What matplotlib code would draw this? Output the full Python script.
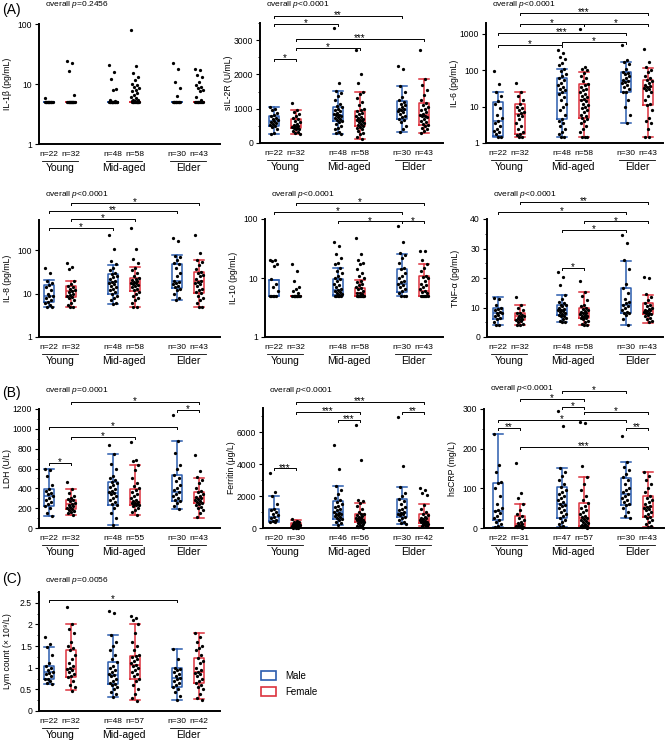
import matplotlib
matplotlib.use("Agg")
import matplotlib.pyplot as plt
from matplotlib.patches import Patch
from matplotlib.ticker import FixedLocator, FixedFormatter, NullLocator, MultipleLocator
from matplotlib.transforms import blended_transform_factory, ScaledTranslation

W, H = 667, 742
BLUE = "#2b5cae"
RED = "#dc323d"

plt.rcParams["font.family"] = ["Liberation Sans", "DejaVu Sans"]
plt.rcParams["mathtext.fontset"] = "custom"
plt.rcParams["mathtext.it"] = "Liberation Sans:italic"
plt.rcParams["mathtext.rm"] = "Liberation Sans"

GROUPS = ["Young", "Mid-aged", "Elder"]

# ---- data: box stats [whislo, q1, med, q3, whishi] per group (M/F per age) ----
IL1B_N = [22, 32, 48, 58, 30, 43]
IL1B_BOX = [[5, 5, 5, 5, 5]] * 6
IL1B_PTS = [
    [5.8, 5, 5, 5, 5, 5, 5, 5, 5, 5, 5, 5, 5, 5],
    [24, 22.5, 16.5, 6.5, 5, 5, 5, 5, 5, 5, 5, 5, 5, 5, 5, 5, 5, 5],
    [21, 16, 12, 8.3, 8, 5.5, 5.3, 5, 5, 5, 5, 5, 5, 5, 5, 5, 5, 5, 5, 5, 5, 5],
    [80, 20, 15, 13, 11.5, 10, 9.5, 9, 8.5, 8, 7.5, 7.2, 6.5, 6, 5.8, 5.5, 5.5, 5.3, 5.2,
     5, 5, 5, 5, 5, 5, 5, 5, 5, 5, 5],
    [22, 18, 11, 8.5, 6.2, 5, 5, 5, 5, 5, 5, 5, 5, 5, 5, 5],
    [18, 17, 14, 13, 11, 9.5, 9, 8.5, 8, 7.5, 6, 5.5, 5, 5, 5, 5, 5, 5, 5, 5, 5, 5],
]

SIL2R_N = [22, 32, 48, 58, 30, 43]
SIL2R_BOX = [[270, 500, 640, 800, 1040], [260, 430, 490, 700, 970],
             [250, 640, 830, 1060, 1520], [120, 510, 680, 930, 1490],
             [330, 690, 960, 1220, 1650], [300, 530, 810, 1170, 1880]]
SIL2R_PTS = [
    [1040, 1000, 950, 880, 820, 790, 740, 700, 660, 640, 620, 580, 550, 520, 500, 470, 420, 300, 270],
    [1180, 970, 900, 850, 780, 720, 690, 650, 600, 560, 520, 500, 490, 470, 450, 430, 420, 400, 360,
     320, 290, 260],
    [3350, 1760, 1520, 1450, 1380, 1250, 1150, 1080, 1050, 1000, 960, 920, 880, 850, 830, 810, 790,
     760, 720, 690, 660, 640, 620, 560, 500, 450, 400, 330, 280, 250],
    [2700, 2000, 1760, 1490, 1420, 1300, 1200, 1100, 1000, 950, 920, 880, 840, 800, 760, 720, 700,
     680, 660, 640, 610, 580, 550, 520, 500, 470, 440, 400, 350, 300, 250, 180, 120],
    [2250, 2150, 1650, 1500, 1350, 1250, 1200, 1150, 1100, 1050, 1000, 980, 960, 940, 900, 850, 800,
     750, 700, 680, 600, 500, 400, 330],
    [2720, 1880, 1700, 1550, 1400, 1250, 1170, 1100, 1050, 1000, 950, 900, 850, 820, 800, 780, 750,
     700, 650, 600, 560, 530, 500, 450, 400, 350, 300],
]

IL6_N = [22, 32, 48, 58, 30, 43]
IL6_BOX = [[1.5, 1.53, 4.1, 13.8, 25], [1.5, 1.74, 6.1, 11.6, 25], [1.5, 4.6, 24.5, 60, 109],
           [1.5, 5, 15.3, 41.7, 88], [3.6, 26, 51, 88, 167], [1.5, 10.9, 34, 55, 113]]
IL6_PTS = [
    [95, 42, 25, 20, 14, 12, 9, 6, 5, 4, 3.5, 3, 2.5, 2.2, 2, 1.8, 1.5, 1.5],
    [45, 25, 20, 15, 11.5, 10, 9, 8, 7, 6.5, 6, 5.5, 4.5, 3.5, 3, 2.5, 2, 1.8, 1.7, 1.5, 1.5],
    [370, 300, 230, 200, 160, 140, 110, 95, 80, 70, 60, 55, 45, 40, 35, 30, 28, 25, 22, 18, 15, 12,
     10, 8, 6, 4.6, 4, 3.5, 3, 2.5, 2, 1.8, 1.5, 1.5],
    [1400, 120, 110, 100, 85, 70, 60, 50, 42, 40, 35, 30, 28, 25, 22, 20, 18, 16, 15, 14, 12, 11, 10,
     9, 8, 7, 6, 5.5, 5, 4.5, 4, 3.5, 3, 2.5, 2, 1.5, 1.5, 1.5],
    [500, 190, 170, 150, 110, 90, 85, 80, 70, 60, 55, 50, 48, 45, 40, 35, 30, 26, 25, 15, 10, 6, 3.5],
    [380, 165, 120, 100, 90, 70, 60, 55, 50, 45, 40, 38, 35, 32, 30, 28, 25, 20, 15, 12, 11, 8, 5, 4,
     3.5, 2.5, 1.5, 1.5],
]

IL8_N = [22, 32, 48, 58, 30, 43]
IL8_BOX = [[4.9, 6.4, 8.7, 15.6, 21], [5, 8.4, 11.3, 14.8, 20], [5.9, 10, 19, 28, 47],
           [5, 11.3, 18, 23.4, 41], [7, 13.8, 20, 49, 77], [5, 10.4, 19.6, 31.6, 61]]
IL8_PTS = [
    [40, 30, 20, 18, 15.5, 14, 12, 10, 9, 8.7, 8, 7, 6.5, 6, 5.5, 5, 5],
    [50, 42, 38, 20, 17, 15, 14.5, 13, 12, 11.5, 11, 10, 9.5, 9, 8.4, 8, 7, 6, 5.5, 5, 5],
    [230, 110, 57, 48, 40, 35, 30, 28, 26, 24, 22, 20, 19, 18, 17, 15, 14, 13, 12, 11, 10, 9, 8, 7,
     6, 5.8],
    [320, 105, 62, 50, 40, 35, 30, 26, 23, 22, 21, 20, 19, 18, 17.5, 17, 16, 15, 14, 13, 12, 11, 10,
     9, 8, 7, 6, 5, 5],
    [190, 165, 75, 70, 60, 50, 48, 40, 30, 25, 20, 19, 18, 17, 15, 14, 13, 12, 10, 8, 7],
    [230, 88, 60, 55, 45, 38, 32, 30, 27, 25, 22, 20, 19, 18, 17, 15, 13, 12, 11, 10.5, 9, 8, 7, 6,
     5, 5],
]

IL10_N = [22, 32, 48, 58, 30, 43]
IL10_BOX = [[5, 5, 5, 9.4, 9.4], [5, 5, 5, 5, 5], [5, 5.2, 6.3, 9.6, 15],
            [5, 5, 5.5, 6.8, 9.1], [5, 5.9, 7.9, 14.2, 25.5], [5, 5, 6, 10.7, 17.5]]
IL10_PTS = [
    [20, 20, 19.5, 17, 16, 9.5, 8, 7, 6, 5, 5, 5, 5, 5],
    [17, 13, 9, 7, 6.5, 6, 5.5, 5, 5, 5, 5, 5, 5, 5, 5, 5, 5, 5],
    [40, 35, 26, 22, 18, 17, 15, 13, 12, 11, 10, 9.5, 9, 8, 7.5, 7, 6.5, 6.3, 6, 5.8, 5.5, 5.3, 5.2,
     5, 5, 5, 5, 5],
    [48, 26, 20, 18, 17, 14, 12, 11, 10, 9, 8.5, 8, 7.5, 7, 6.8, 6.5, 6, 5.5, 5.5, 5.3, 5, 5, 5, 5,
     5, 5, 5, 5, 5, 5],
    [75, 40, 27, 25, 22, 18, 15, 14, 12, 11, 10, 9, 8.5, 8, 7.5, 7, 6.5, 6, 5.5, 5, 5, 5],
    [29, 28.5, 20, 17.5, 15, 13, 11, 10.5, 10, 9, 8, 7.5, 7, 6.5, 6, 5.8, 5.5, 5, 5, 5, 5, 5, 5, 5],
]

TNF_N = [22, 32, 48, 58, 30, 43]
TNF_BOX = [[4, 6, 8.2, 10, 13.4], [4, 5.8, 7, 8.2, 11], [5, 7.3, 9.1, 10.8, 14.3],
           [4, 6.4, 8.2, 10, 15.3], [4, 8, 11, 16.5, 25.9], [4.8, 7.7, 8.9, 11.6, 14.4]]
TNF_PTS = [
    [13.3, 12.8, 11, 10, 9.5, 9, 8.5, 8.2, 8, 7.5, 7, 6.5, 6, 5, 4, 4],
    [13.6, 11, 10, 9, 8.2, 8, 7.5, 7, 7, 6.8, 6.5, 6.2, 6, 5.8, 5.5, 5, 4.5, 4, 4],
    [22, 20.5, 17.5, 14.3, 13, 12, 11.5, 11, 10.8, 10.5, 10, 9.5, 9.2, 9, 8.8, 8.5, 8, 7.8, 7.5,
     7.2, 7, 6.5, 6, 5.5, 5, 5],
    [19, 15.3, 14, 12.5, 11, 10.5, 10, 9.5, 9, 8.8, 8.5, 8.2, 8, 7.8, 7.5, 7.2, 7, 6.8, 6.5, 6.3, 6,
     5.5, 5, 4.5, 4, 4],
    [34.5, 32, 26, 23, 18, 16.5, 15, 13, 12, 11.5, 11, 10.5, 10, 9, 8.5, 8, 8, 7.5, 6, 4],
    [20.5, 20, 14.5, 13.5, 12.5, 11.5, 11, 10.5, 10, 9.5, 9, 9, 8.8, 8.5, 8.2, 8, 7.8, 7.5, 7, 6.5,
     6, 5.5, 5],
]

LDH_N = [22, 32, 48, 55, 30, 43]
LDH_BOX = [[117, 221, 320, 389, 597], [127, 191, 241, 285, 389], [27, 235, 352, 459, 747],
           [134, 228, 261, 395, 637], [194, 268, 362, 530, 878], [100, 248, 302, 362, 503]]
LDH_PTS = [
    [600, 580, 520, 430, 390, 370, 350, 340, 320, 300, 280, 260, 240, 220, 200, 150, 120],
    [460, 390, 350, 320, 300, 290, 280, 270, 250, 240, 235, 220, 210, 200, 190, 180, 170, 160, 150, 130],
    [840, 750, 650, 600, 520, 500, 480, 460, 450, 430, 410, 390, 370, 360, 350, 340, 320, 300, 280,
     260, 240, 230, 200, 150, 100, 30],
    [870, 690, 680, 640, 580, 500, 450, 420, 400, 380, 360, 340, 320, 300, 280, 270, 260, 255, 250,
     245, 240, 235, 230, 220, 200, 180, 160, 130],
    [1140, 880, 760, 640, 600, 530, 500, 470, 430, 400, 380, 360, 340, 320, 300, 280, 270, 250, 220, 195],
    [740, 570, 510, 480, 450, 400, 370, 360, 340, 320, 310, 300, 290, 280, 270, 260, 250, 240, 230,
     210, 200, 180, 150, 110],
]

FER_N = [20, 30, 46, 56, 30, 42]
FER_BOX = [[350, 421, 695, 1179, 2000], [0, 50, 200, 295, 526], [210, 590, 1010, 1705, 2653],
           [0, 379, 560, 863, 1537], [253, 695, 947, 1810, 2547], [126, 337, 484, 905, 1495]]
FER_PTS = [
    [3450, 2250, 2000, 1500, 1200, 1100, 1000, 900, 800, 700, 600, 500, 450, 400, 350],
    [550, 450, 400, 350, 300, 280, 250, 220, 200, 180, 160, 140, 120, 100, 80, 60, 50, 30, 20, 10],
    [5200, 3700, 2650, 2400, 2100, 1900, 1720, 1600, 1500, 1400, 1300, 1200, 1100, 1000, 950, 900,
     850, 800, 750, 700, 600, 570, 500, 400, 300, 200],
    [6450, 4250, 1750, 1700, 1550, 1400, 1200, 1000, 900, 880, 800, 750, 700, 650, 600, 560, 520, 500,
     480, 450, 400, 380, 350, 300, 250, 200, 150, 100, 50, 0],
    [6950, 3900, 2550, 2200, 2000, 1830, 1700, 1500, 1300, 1200, 1100, 1000, 950, 900, 850, 800, 700,
     650, 500, 400, 300, 250],
    [2500, 2350, 2200, 2050, 1450, 1200, 1000, 900, 800, 700, 650, 600, 550, 500, 450, 420, 400, 380,
     350, 300, 280, 250, 200, 150, 120],
]

CRP_N = [22, 31, 47, 57, 30, 43]
CRP_BOX = [[2.5, 19, 42, 114, 237], [1, 3, 11, 29.5, 61], [2, 25, 61, 104, 152],
           [1, 5, 25, 64, 129], [24, 57, 85, 127, 167], [2, 28, 52, 80, 141.5]]
CRP_PTS = [
    [237, 160, 140, 115, 113, 100, 80, 60, 50, 45, 42, 38, 30, 25, 20, 15, 10, 5, 2],
    [165, 87, 75, 60, 45, 35, 29, 25, 20, 15, 12, 10, 8, 6, 5, 4, 3, 3, 2, 1],
    [295, 258, 152, 140, 130, 120, 110, 103, 95, 90, 85, 80, 75, 70, 65, 60, 58, 55, 50, 45, 40, 35,
     30, 25, 20, 15, 10, 5, 2],
    [268, 265, 156, 128, 110, 95, 80, 70, 63, 55, 50, 45, 40, 35, 30, 27, 25, 22, 20, 18, 15, 12, 10,
     8, 6, 5, 4, 3, 2, 1],
    [232, 167, 155, 145, 135, 128, 120, 110, 100, 95, 90, 85, 80, 75, 70, 65, 60, 57, 50, 40, 30, 24],
    [142, 130, 120, 110, 100, 90, 80, 75, 70, 65, 60, 55, 52, 50, 48, 45, 40, 35, 30, 28, 25, 20, 15,
     10, 5, 2],
]

LYM_N = [22, 32, 48, 57, 30, 42]
LYM_BOX = [[0.62, 0.73, 0.9, 1.046, 1.477], [0.477, 0.785, 0.977, 1.4, 2.0],
           [0.323, 0.615, 0.83, 1.13, 1.754], [0.246, 0.746, 1.07, 1.277, 2.01],
           [0.246, 0.55, 0.76, 0.985, 1.43], [0.27, 0.646, 0.9, 1.22, 1.81]]
LYM_PTS = [
    [1.72, 1.55, 1.48, 1.3, 1.1, 1.05, 1.0, 0.95, 0.9, 0.88, 0.85, 0.8, 0.75, 0.73, 0.7, 0.65, 0.62],
    [2.4, 2.0, 1.9, 1.8, 1.6, 1.5, 1.45, 1.4, 1.3, 1.2, 1.1, 1.05, 1.0, 0.97, 0.95, 0.9, 0.85, 0.8,
     0.78, 0.7, 0.6, 0.55, 0.47],
    [2.32, 2.27, 1.75, 1.6, 1.5, 1.4, 1.3, 1.2, 1.13, 1.05, 1.0, 0.95, 0.9, 0.85, 0.83, 0.8, 0.75,
     0.7, 0.65, 0.62, 0.6, 0.55, 0.5, 0.45, 0.4, 0.33],
    [2.2, 2.15, 2.1, 2.0, 1.8, 1.6, 1.5, 1.4, 1.3, 1.28, 1.25, 1.2, 1.15, 1.1, 1.07, 1.05, 1.0, 0.95,
     0.9, 0.85, 0.8, 0.75, 0.7, 0.6, 0.5, 0.4, 0.3, 0.24],
    [1.43, 1.2, 1.0, 0.98, 0.95, 0.9, 0.85, 0.8, 0.77, 0.75, 0.7, 0.65, 0.6, 0.55, 0.5, 0.45, 0.35, 0.25],
    [1.8, 1.7, 1.6, 1.5, 1.45, 1.4, 1.3, 1.22, 1.15, 1.1, 1.0, 0.95, 0.9, 0.88, 0.85, 0.8, 0.75, 0.7,
     0.65, 0.6, 0.55, 0.5, 0.4, 0.3, 0.26],
]

# significance brackets: (group i, group j, label, height in axes fraction)
IL1B_SIG = []
SIL2R_SIG = [(0, 4, "**", 1.058), (0, 2, "*", 0.992), (1, 5, "***", 0.865), (1, 3, "*", 0.795),
             (0, 1, "*", 0.700)]
IL6_SIG = [(1, 5, "***", 1.081), (1, 3, "*", 0.992), (3, 5, "*", 0.992), (0, 4, "***", 0.914),
           (0, 2, "*", 0.817), (2, 4, "*", 0.844)]
IL8_SIG = [(1, 5, "*", 1.148), (0, 4, "**", 1.075), (1, 3, "*", 1.006), (0, 2, "*", 0.929)]
IL10_SIG = [(1, 5, "*", 1.137), (0, 4, "*", 1.057), (2, 4, "*", 0.980), (4, 5, "*", 0.980)]
TNF_SIG = [(1, 5, "**", 1.148), (0, 4, "*", 1.062), (3, 5, "*", 0.980), (2, 4, "*", 0.909),
           (2, 3, "*", 0.587)]
LDH_SIG = [(1, 5, "*", 1.056), (4, 5, "*", 0.992), (0, 4, "*", 0.851), (1, 3, "*", 0.767),
           (0, 1, "*", 0.544)]
FER_SIG = [(1, 5, "***", 1.048), (1, 3, "***", 0.964), (4, 5, "**", 0.964), (2, 3, "***", 0.899),
           (0, 1, "***", 0.496)]
CRP_SIG = [(2, 4, "*", 1.154), (1, 3, "*", 1.084), (2, 3, "*", 1.019), (3, 5, "*", 0.977),
           (0, 4, "*", 0.908), (4, 5, "**", 0.838), (1, 5, "***", 0.683), (0, 1, "**", 0.838)]
LYM_SIG = [(0, 4, "*", 0.933)]

POS = [0, 1, 2.9, 3.9, 5.8, 6.8]
PX_PER_UNIT = 22.06
COL_X0 = [49, 274, 498]  # pixel x of first box in each column

PANELS = [
    dict(ylabel="IL-1β (pg/mL)", box=IL1B_BOX, pts=IL1B_PTS, n=IL1B_N, sig=IL1B_SIG,
         p="=0.2456", log=True, ylim=(1, 100), ticks=[1, 10, 100],
         rect=(39, 24, 181, 144), col=0, py=5),
    dict(ylabel="sIL-2R (U/mL)", box=SIL2R_BOX, pts=SIL2R_PTS, n=SIL2R_N, sig=SIL2R_SIG,
         p="<0.0001", log=False, ylim=(0, 3500), ticks=[0, 1000, 2000, 3000], minor=500,
         rect=(260, 23, 183, 143), col=1, py=5),
    dict(ylabel="IL-6 (pg/mL)", box=IL6_BOX, pts=IL6_PTS, n=IL6_N, sig=IL6_SIG,
         p="<0.0001", log=True, ylim=(1, 2000), ticks=[1, 10, 100, 1000],
         rect=(486, 23, 177, 143), col=2, py=5),
    dict(ylabel="IL-8 (pg/mL)", box=IL8_BOX, pts=IL8_PTS, n=IL8_N, sig=IL8_SIG,
         p="<0.0001", log=True, ylim=(1, 500), ticks=[1, 10, 100],
         rect=(39, 220, 181, 337), col=0, py=195),
    dict(ylabel="IL-10 (pg/mL)", box=IL10_BOX, pts=IL10_PTS, n=IL10_N, sig=IL10_SIG,
         p="<0.0001", log=True, ylim=(1, 100), ticks=[1, 10, 100],
         rect=(265, 219, 178, 337), col=1, py=195),
    dict(ylabel="TNF-α (pg/mL)", box=TNF_BOX, pts=TNF_PTS, n=TNF_N, sig=TNF_SIG,
         p="<0.0001", log=False, ylim=(0, 40), ticks=[0, 10, 20, 30, 40], minor=5,
         rect=(487, 219, 176, 337), col=2, py=195),
    dict(ylabel="LDH (U/L)", box=LDH_BOX, pts=LDH_PTS, n=LDH_N, sig=LDH_SIG,
         p="=0.0001", log=False, ylim=(0, 1200), ticks=[0, 200, 400, 600, 800, 1000, 1200], minor=100,
         rect=(39, 409, 181, 528), col=0, py=391),
    dict(ylabel="Ferritin (μg/L)", box=FER_BOX, pts=FER_PTS, n=FER_N, sig=FER_SIG,
         p="<0.0001", log=False, ylim=(0, 7500), ticks=[0, 2000, 4000, 6000], minor=1000,
         rect=(263, 408, 180, 528), col=1, py=391),
    dict(ylabel="hsCRP (mg/L)", box=CRP_BOX, pts=CRP_PTS, n=CRP_N, sig=CRP_SIG,
         p="<0.0001", log=False, ylim=(0, 300), ticks=[0, 100, 200, 300], minor=50,
         rect=(484, 409, 180, 528), col=2, py=388),
    dict(ylabel="Lym count (× 10⁹/L)", box=LYM_BOX, pts=LYM_PTS, n=LYM_N, sig=LYM_SIG,
         p="=0.0056", log=False, ylim=(0, 2.75), ticks=[0, 0.5, 1, 1.5, 2, 2.5], minor=0.25,
         rect=(39, 592, 181, 711), col=0, py=580),
]


def fmt(v):
    return f"{v:g}"


def draw_panel(fig, p):
    left, top, width, bottom = p["rect"]
    ax = fig.add_axes([left / W, 1 - bottom / H, width / W, (bottom - top) / H])
    if p["log"]:
        ax.set_yscale("log")

    for k, (lo, q1, med, q3, hi) in enumerate(p["box"]):
        c = BLUE if k % 2 == 0 else RED
        st = dict(whislo=lo, q1=q1, med=med, q3=q3, whishi=hi, fliers=[])
        line = dict(color=c, linewidth=1.1)
        ax.bxp([st], positions=[POS[k]], widths=0.45, capwidths=0.45, showfliers=False,
               boxprops=line, whiskerprops=line, capprops=line, medianprops=line,
               manage_ticks=False)

    for k, vals in enumerate(p["pts"]):
        xs = [POS[k] + ((i * 0.618034) % 1.0 - 0.5) * 0.36 for i in range(len(vals))]
        ax.scatter(xs, vals, s=5.5, color="black", linewidths=0, zorder=3, clip_on=False)

    x0px = COL_X0[p["col"]]
    ax.set_xlim((left - x0px) / PX_PER_UNIT, (left + width - x0px) / PX_PER_UNIT)
    ax.set_ylim(*p["ylim"])
    ax.set_xticks([])
    ax.yaxis.set_major_locator(FixedLocator(p["ticks"]))
    ax.yaxis.set_major_formatter(FixedFormatter([fmt(t) for t in p["ticks"]]))
    if p["log"]:
        ax.yaxis.set_minor_locator(NullLocator())
    else:
        ax.yaxis.set_minor_locator(MultipleLocator(p["minor"]))
    ax.tick_params(axis="y", which="major", labelsize=6.2, length=3, width=0.8, pad=2)
    ax.tick_params(axis="y", which="minor", length=1.5, width=0.6)
    for s in ("top", "right"):
        ax.spines[s].set_visible(False)
    for s in ("left", "bottom"):
        ax.spines[s].set_linewidth(1.4)
    ax.set_ylabel(p["ylabel"], fontsize=6.2)
    ax.yaxis.set_label_coords(-27 / width, 0.5)

    tr = blended_transform_factory(ax.transData, ax.transAxes)
    for k, n in enumerate(p["n"]):
        ax.annotate(f"n={n}", xy=(POS[k], 0), xycoords=tr, xytext=(0, -7.6),
                    textcoords="offset points", ha="center", va="center", fontsize=6)
    under = tr + ScaledTranslation(0, -12.0 / 72, fig.dpi_scale_trans)
    for g in range(3):
        a, b = POS[2 * g], POS[2 * g + 1]
        ax.plot([a - 0.3, b + 0.3], [0, 0], transform=under, color="black", lw=0.6, clip_on=False)
        ax.annotate(GROUPS[g], xy=((a + b) / 2, 0), xycoords=tr, xytext=(0, -17.6),
                    textcoords="offset points", ha="center", va="center", fontsize=7.5)

    tip = 2.0 / (bottom - top)
    for i, j, lab, yf in p["sig"]:
        a, b = POS[i], POS[j]
        ax.plot([a, a, b, b], [yf - tip, yf, yf, yf - tip], transform=tr, color="black",
                lw=0.7, clip_on=False)
        ax.annotate(lab, xy=((a + b) / 2, yf), xycoords=tr, xytext=(0, -1.6),
                    textcoords="offset points", ha="center", va="baseline", fontsize=7)

    fig.text((left + 6) / W, 1 - p["py"] / H, "overall $p$" + p["p"], fontsize=6, va="center")
    return ax


fig = plt.figure(figsize=(W / 100, H / 100), dpi=100)
for panel in PANELS:
    draw_panel(fig, panel)

fig.text(2 / W, 1 - 10 / H, "(A)", fontsize=10, va="center")
fig.text(2 / W, 1 - 393 / H, "(B)", fontsize=10, va="center")
fig.text(2 / W, 1 - 579 / H, "(C)", fontsize=10, va="center")

handles = [Patch(facecolor="white", edgecolor=BLUE, linewidth=1.2, label="Male"),
           Patch(facecolor="white", edgecolor=RED, linewidth=1.2, label="Female")]
fig.legend(handles=handles, loc="center left", bbox_to_anchor=(252 / W, 1 - 684 / H),
           frameon=False, fontsize=7, handlelength=1.6, handleheight=1.1,
           labelspacing=0.6, handletextpad=0.9)

fig.savefig("out.png", dpi=100)
